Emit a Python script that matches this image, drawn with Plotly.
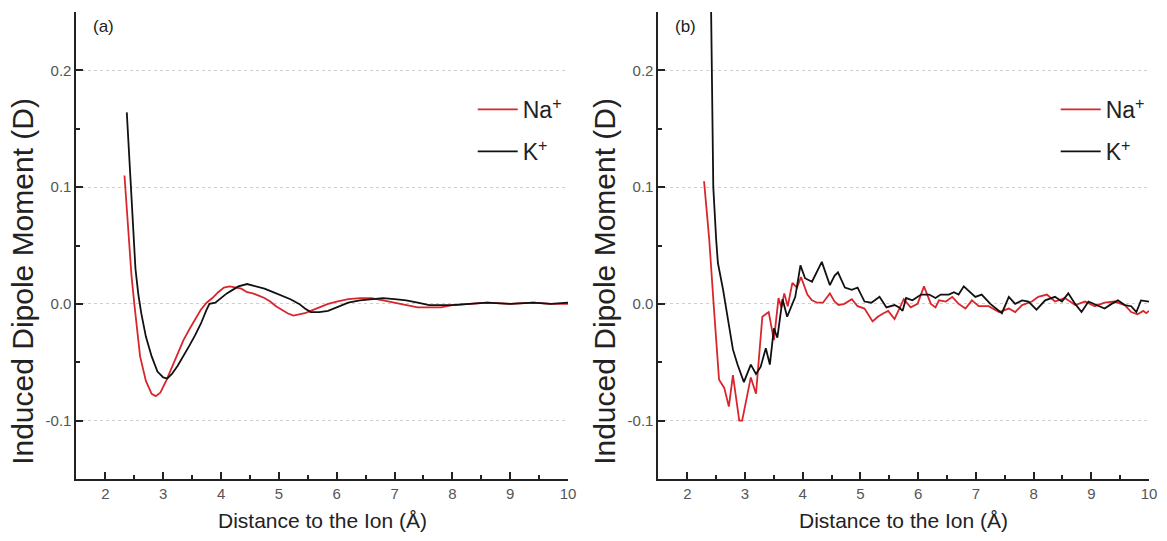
import plotly.graph_objects as go

# ---------------- data ----------------
na_a_x = [2.33, 2.40, 2.45, 2.50, 2.55, 2.60, 2.70, 2.80, 2.87, 2.95, 3.05, 3.15, 3.25, 3.35, 3.45,
          3.55, 3.65, 3.75, 3.85, 3.95, 4.05, 4.15, 4.25, 4.35, 4.45, 4.55, 4.65, 4.75, 4.85, 4.95,
          5.05, 5.15, 5.25, 5.35, 5.45, 5.55, 5.65, 5.75, 5.85, 6.0, 6.2, 6.4, 6.6, 6.8, 7.0, 7.2,
          7.4, 7.6, 7.8, 8.0, 8.3, 8.6, 9.0, 9.4, 9.7, 10.0]
na_a_y = [0.110, 0.055, 0.025, 0.000, -0.025, -0.045, -0.066, -0.077, -0.079, -0.076, -0.066, -0.054,
          -0.042, -0.031, -0.022, -0.013, -0.005, 0.001, 0.005, 0.010, 0.014, 0.015, 0.014, 0.013,
          0.010, 0.009, 0.007, 0.005, 0.002, -0.002, -0.005, -0.008, -0.010, -0.009, -0.008, -0.006,
          -0.004, -0.002, 0.000, 0.002, 0.004, 0.005, 0.005, 0.003, 0.001, -0.001, -0.003, -0.003,
          -0.003, -0.001, 0.000, 0.001, 0.000, 0.001, 0.000, 0.000]

k_a_x = [2.37, 2.42, 2.47, 2.52, 2.57, 2.62, 2.70, 2.80, 2.90, 3.00, 3.07, 3.15, 3.25, 3.35, 3.45,
         3.55, 3.65, 3.75, 3.80, 3.90, 4.00, 4.10, 4.20, 4.30, 4.45, 4.60, 4.75, 4.90, 5.05, 5.20,
         5.35, 5.45, 5.55, 5.70, 5.85, 6.00, 6.20, 6.40, 6.60, 6.80, 7.00, 7.20, 7.40, 7.60, 7.80,
         8.00, 8.3, 8.6, 9.0, 9.4, 9.7, 10.0]
k_a_y = [0.164, 0.120, 0.070, 0.030, 0.008, -0.008, -0.028, -0.045, -0.058, -0.063, -0.064, -0.060,
         -0.053, -0.045, -0.036, -0.027, -0.017, -0.005, 0.000, 0.001, 0.005, 0.009, 0.012, 0.015,
         0.017, 0.015, 0.013, 0.010, 0.007, 0.004, 0.000, -0.004, -0.007, -0.007, -0.006, -0.003,
         0.001, 0.003, 0.004, 0.005, 0.004, 0.003, 0.001, -0.001, -0.001, -0.001, 0.000, 0.001,
         0.000, 0.001, 0.000, 0.001]

na_b_x = [2.29, 2.38, 2.46, 2.55, 2.64, 2.72, 2.79, 2.90, 2.95, 3.10, 3.19, 3.30, 3.41, 3.50, 3.58,
          3.63, 3.68, 3.74, 3.82, 3.90, 3.97, 4.08, 4.16, 4.25, 4.35, 4.47, 4.55, 4.62, 4.72, 4.85,
          4.95, 5.07, 5.21, 5.30, 5.40, 5.48, 5.59, 5.68, 5.75, 5.87, 5.99, 6.10, 6.22, 6.30, 6.36,
          6.48, 6.59, 6.70, 6.82, 6.93, 7.05, 7.22, 7.40, 7.57, 7.68, 7.80, 7.97, 8.08, 8.23, 8.37,
          8.54, 8.72, 8.89, 9.06, 9.23, 9.40, 9.58, 9.69, 9.80, 9.90, 9.95, 10.0]
na_b_y = [0.105, 0.055, -0.003, -0.065, -0.072, -0.088, -0.061, -0.100, -0.100, -0.063, -0.077,
          -0.011, -0.007, -0.031, 0.005, -0.003, 0.009, -0.002, 0.018, 0.014, 0.023, 0.008, 0.003,
          0.001, 0.001, 0.009, 0.002, -0.001, 0.000, 0.004, -0.002, -0.004, -0.015, -0.011, -0.008,
          -0.006, -0.013, -0.004, 0.004, -0.003, 0.000, 0.015, 0.000, -0.003, 0.003, 0.002, 0.006,
          0.000, -0.004, 0.003, -0.002, -0.002, -0.007, -0.004, -0.007, -0.001, 0.002, 0.006, 0.008,
          0.002, 0.005, -0.001, 0.002, -0.002, 0.001, 0.002, -0.001, -0.007, -0.009, -0.006, -0.008,
          -0.006]

k_b_x = [2.40, 2.45, 2.50, 2.53, 2.62, 2.70, 2.79, 2.87, 2.98, 3.10, 3.19, 3.27, 3.36, 3.43, 3.50,
         3.56, 3.65, 3.73, 3.87, 3.96, 4.04, 4.16, 4.25, 4.33, 4.47, 4.55, 4.61, 4.73, 4.85, 4.95,
         5.07, 5.19, 5.33, 5.45, 5.59, 5.67, 5.73, 5.79, 5.90, 6.05, 6.19, 6.30, 6.39, 6.53, 6.62,
         6.70, 6.79, 6.88, 6.99, 7.10, 7.25, 7.45, 7.57, 7.68, 7.80, 7.91, 8.05, 8.20, 8.37, 8.49,
         8.60, 8.72, 8.83, 8.95, 9.12, 9.23, 9.35, 9.46, 9.58, 9.69, 9.78, 9.86, 10.0]
k_b_y = [0.300, 0.100, 0.055, 0.035, 0.012, -0.011, -0.039, -0.052, -0.067, -0.052, -0.060, -0.054,
         -0.038, -0.052, -0.021, -0.029, 0.004, -0.011, 0.006, 0.033, 0.022, 0.019, 0.028, 0.036,
         0.016, 0.024, 0.027, 0.014, 0.012, 0.014, 0.002, 0.001, 0.006, -0.003, -0.001, -0.003,
         -0.006, 0.005, 0.003, 0.008, 0.008, 0.005, 0.008, 0.008, 0.010, 0.008, 0.015, 0.011, 0.006,
         0.008, 0.000, -0.008, 0.006, 0.000, 0.003, 0.002, -0.005, 0.003, 0.006, 0.002, 0.009, 0.000,
         -0.007, 0.002, -0.002, -0.004, 0.000, 0.003, -0.001, -0.002, -0.007, 0.003, 0.002]

x_ticks = [2, 3, 4, 5, 6, 7, 8, 9, 10]
y_ticks = [-0.1, 0.0, 0.1, 0.2]
y_tick_labels = ["-0.1", "0.0", "0.1", "0.2"]
panel_labels = ["(a)", "(b)"]
series_names = ["Na<sup>+</sup>", "K<sup>+</sup>"]

RED = "#d9262c"
BLACK = "#111111"
W, H = 1167, 541
REG = "Liberation Sans, Arial"

fig = go.Figure()
fig.add_trace(go.Scatter(x=na_a_x, y=na_a_y, mode="lines", name=series_names[0],
                         line=dict(color=RED, width=1.8), xaxis="x", yaxis="y",
                         legend="legend", legendgroup="na"))
fig.add_trace(go.Scatter(x=k_a_x, y=k_a_y, mode="lines", name=series_names[1],
                         line=dict(color=BLACK, width=1.8), xaxis="x", yaxis="y",
                         legend="legend", legendgroup="k"))
fig.add_trace(go.Scatter(x=na_b_x, y=na_b_y, mode="lines", name=series_names[0],
                         line=dict(color=RED, width=1.8), xaxis="x2", yaxis="y2",
                         legend="legend2", legendgroup="na2"))
fig.add_trace(go.Scatter(x=k_b_x, y=k_b_y, mode="lines", name=series_names[1],
                         line=dict(color=BLACK, width=1.8), xaxis="x2", yaxis="y2",
                         legend="legend2", legendgroup="k2"))

ydom = [(541 - 479) / H, (541 - 12) / H]
xdom_a = [77 / W, 572 / W]
xdom_b = [663 / W, 1157 / W]

def xax(dom, anchor):
    return dict(domain=dom, anchor=anchor, range=[1.5, 10], tickvals=x_ticks,
                showline=True, linecolor="#222", linewidth=2, ticks="inside", ticklen=7,
                tickwidth=1.5, tickcolor="#222", showgrid=False, zeroline=False,
                tickfont=dict(family=REG, size=15, color="#555"),
                minor=dict(ticks="inside", ticklen=4, tickwidth=1.5, tickcolor="#222",
                           dtick=0.5, tick0=1.5, showgrid=False))

def yax(anchor):
    return dict(domain=ydom, anchor=anchor, range=[-0.15, 0.25], tickvals=y_ticks,
                ticktext=y_tick_labels, showline=True, linecolor="#222", linewidth=2,
                ticks="inside", ticklen=7, tickwidth=1.5, tickcolor="#222",
                showgrid=True, gridcolor="#cfcfcf", griddash="dot", gridwidth=1,
                zeroline=False,
                tickfont=dict(family=REG, size=15, color="#555"),
                minor=dict(ticks="inside", ticklen=4, tickwidth=1.5, tickcolor="#222",
                           dtick=0.05, tick0=0.05, showgrid=False))

legend_common = dict(font=dict(family=REG, size=23, color="#222"),
                     bgcolor="rgba(0,0,0,0)", xanchor="left", yanchor="top",
                     tracegroupgap=9, itemwidth=40)

fig.update_layout(
    width=W, height=H, autosize=False,
    margin=dict(l=0, r=0, t=0, b=0),
    paper_bgcolor="white", plot_bgcolor="white",
    xaxis=xax(xdom_a, "y"), yaxis=yax("x"),
    xaxis2=xax(xdom_b, "y2"), yaxis2=yax("x2"),
    legend=dict(x=476 / W, y=(541 - 88) / H, **legend_common),
    legend2=dict(x=1063 / W, y=(541 - 88) / H, **legend_common),
)

annos = []
for lbl, xp in zip(panel_labels, [92, 678]):
    annos.append(dict(text=lbl, x=xp / W, y=(541 - 27) / H, xref="paper", yref="paper",
                      xanchor="left", yanchor="middle", showarrow=False,
                      font=dict(family=REG, size=17, color="#222")))
for xp in [22, 608]:
    annos.append(dict(text="Induced Dipole Moment (D)", x=xp / W, y=(541 - 281) / H,
                      xref="paper", yref="paper", textangle=-90, showarrow=False,
                      xanchor="center", yanchor="middle",
                      font=dict(family=REG, size=30, color="#222")))
for xp in [325, 910]:
    annos.append(dict(text="Distance to the Ion (Å)", x=xp / W, y=(541 - 520) / H,
                      xref="paper", yref="paper", showarrow=False,
                      xanchor="center", yanchor="middle",
                      font=dict(family=REG, size=21, color="#222")))
fig.update_layout(annotations=annos)

fig.write_html("out.html")
